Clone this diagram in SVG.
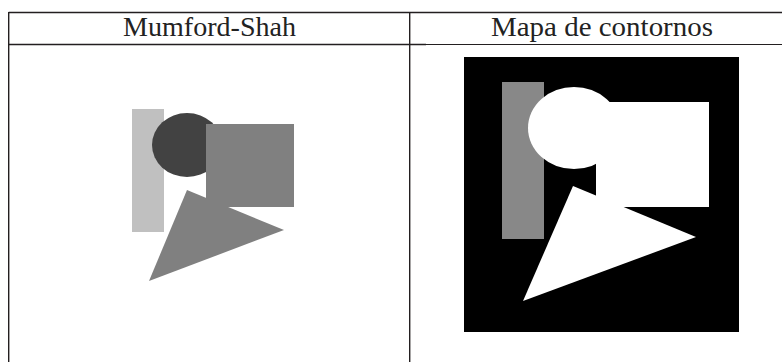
<svg xmlns="http://www.w3.org/2000/svg" width="782" height="362" viewBox="0 0 782 362">
  <style>
    .rule { stroke: #231f20; stroke-width: 1.4; fill: none; }
    .hdr { font-family: "Liberation Serif", "DejaVu Serif", serif; font-size: 27px; fill: #222; text-anchor: middle; }
  </style>
  <rect width="782" height="362" fill="#ffffff"/>
  <g id="table">
    <line class="rule" x1="8.7" y1="12.5" x2="782" y2="12.5"/>
    <line class="rule" x1="8.7" y1="12" x2="8.7" y2="362"/>
    <line class="rule" x1="409.7" y1="12" x2="409.7" y2="362"/>
    <line class="rule" x1="8.7" y1="44.5" x2="426" y2="44.5"/>
    <line x1="426" y1="44.5" x2="782" y2="44.5" stroke="#231f20" stroke-width="1"/>
  </g>
  <g id="header-left">
    <text class="hdr" x="209.5" y="36" textLength="173" lengthAdjust="spacingAndGlyphs">Mumford-Shah</text>
  </g>
  <g id="header-right">
    <text class="hdr" x="602" y="36" textLength="222" lengthAdjust="spacingAndGlyphs">Mapa de contornos</text>
  </g>
  <g id="mumford-shah-image">
    <rect x="132" y="109" width="32" height="123" fill="#c0c0c0"/>
    <ellipse cx="187" cy="145" rx="35" ry="32" fill="#424242"/>
    <rect x="206" y="124" width="88" height="83" fill="#808080"/>
    <polygon points="187,190 284,230 149,281" fill="#808080"/>
  </g>
  <g id="contour-map-image">
    <rect x="464" y="57" width="275" height="275" fill="#000000"/>
    <rect x="502" y="82" width="42" height="157" fill="#888888"/>
    <ellipse cx="574" cy="128" rx="46" ry="41" fill="#ffffff"/>
    <rect x="596" y="102" width="113" height="105" fill="#ffffff"/>
    <polygon points="573,186 696,237 523,301" fill="#ffffff"/>
  </g>
</svg>
